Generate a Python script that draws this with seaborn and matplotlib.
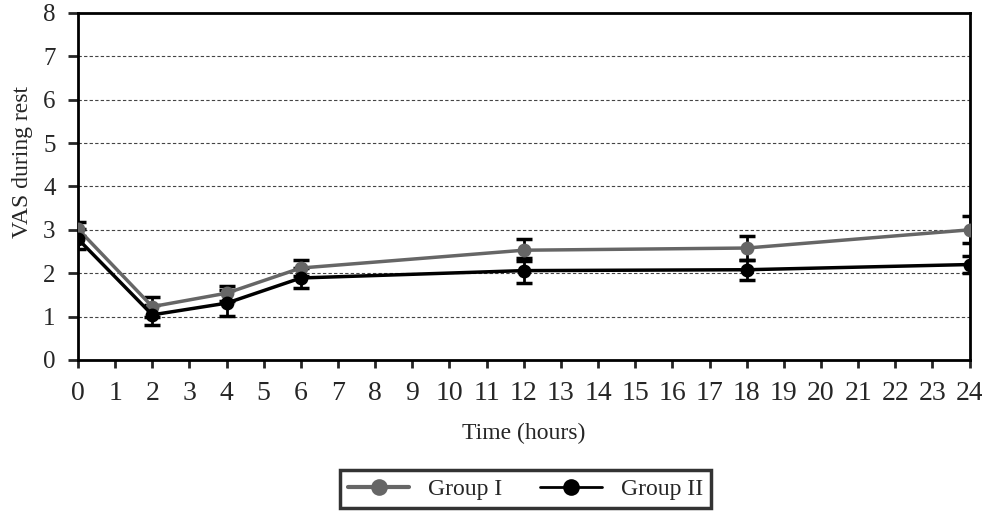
import pandas as pd
import matplotlib.pyplot as plt
import seaborn as sns

# Data
hours = [0, 2, 4, 6, 12, 18, 24]
group1_vas = [3.02, 1.23, 1.54, 2.12, 2.53, 2.58, 3.0]
group1_err = [0.17, 0.23, 0.17, 0.19, 0.25, 0.27, 0.31]
group2_vas = [2.79, 1.04, 1.31, 1.89, 2.06, 2.08, 2.2]
group2_err = [0.23, 0.23, 0.30, 0.23, 0.28, 0.23, 0.2]
groups = ['Group I', 'Group II']
group_colors = {'Group I': '#666666', 'Group II': '#000000'}

sns.set_style('white')
plt.rcParams['font.family'] = 'serif'
plt.rcParams['font.serif'] = ['Liberation Serif', 'Times New Roman', 'DejaVu Serif']

# Long-format table for seaborn
df = pd.DataFrame({
    'Time': hours * 2,
    'VAS': group1_vas + group2_vas,
    'Group': [groups[0]] * len(hours) + [groups[1]] * len(hours),
})

fig = plt.figure(figsize=(9.82, 5.15), dpi=100)
ax = fig.add_axes([0.0794, 0.301, 0.908, 0.674])

# Error bars (black caps for both groups)
for vals, errs in [(group1_vas, group1_err), (group2_vas, group2_err)]:
    ax.errorbar(hours, vals, yerr=errs, fmt='none', ecolor='black',
                elinewidth=2, capsize=6, capthick=2.5, zorder=2)

sns.lineplot(data=df, x='Time', y='VAS', hue='Group', palette=group_colors,
             marker='o', markersize=10, markeredgewidth=0, linewidth=2.5,
             errorbar=None, ax=ax, zorder=3, legend=False)

ax.set_xlim(0, 24)
ax.set_ylim(0, 8)
ax.set_xticks(range(0, 25))
ax.set_yticks(range(0, 9))
ax.tick_params(axis='x', labelsize=20, length=6, width=2, pad=9, direction='out', bottom=True)
ax.tick_params(axis='y', labelsize=18, length=7, width=2, pad=9, direction='out', left=True)

for y in range(1, 8):
    ax.axhline(y, color='#444444', linestyle=(0, (3, 2)), linewidth=0.8, zorder=1)

for side in ['left', 'right', 'top', 'bottom']:
    ax.spines[side].set_visible(True)
    ax.spines[side].set_color('black')
    ax.spines[side].set_linewidth(2)

ax.set_xlabel('Time (hours)', fontsize=17, labelpad=12)
ax.set_ylabel('VAS during rest', fontsize=17)
ax.yaxis.set_label_coords(-0.050, 0.57)

# Legend below the plot
handles = [
    plt.Line2D([], [], color=group_colors['Group I'], marker='o', markersize=12,
               markeredgewidth=0, linewidth=3),
    plt.Line2D([], [], color=group_colors['Group II'], marker='o', markersize=12,
               markeredgewidth=0, linewidth=2),
]
leg = fig.legend(handles, groups, loc='center', bbox_to_anchor=(0.535, 0.05),
                 ncol=2, fontsize=17, frameon=True, fancybox=False,
                 edgecolor='black', handlelength=2.6, columnspacing=1.6,
                 borderpad=0.35)
leg.get_frame().set_linewidth(2.5)

fig.savefig('out.png', dpi=100)
